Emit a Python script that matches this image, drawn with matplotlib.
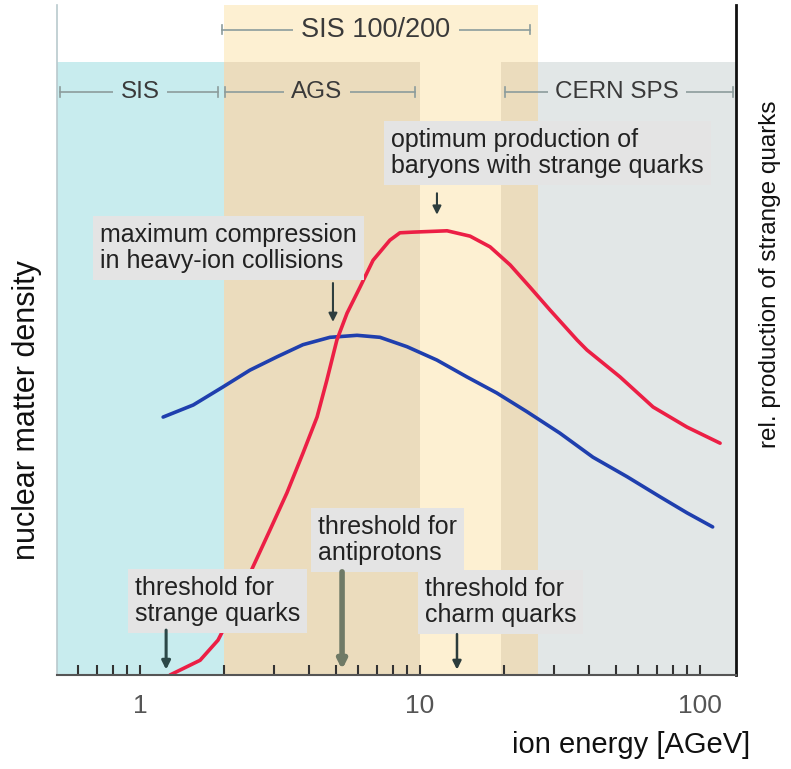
import matplotlib
matplotlib.use('Agg')
import matplotlib.pyplot as plt

# ---- data ----
energy_red = [1.28, 1.64, 1.90, 2.22, 2.53, 2.91, 3.35, 3.82, 4.29, 4.65, 5.05, 5.49,
              6.11, 6.80, 7.81, 8.48, 9.44, 12.5, 15.1, 17.8, 21.0, 24.7, 29.1, 36.4,
              39.5, 51.8, 68.0, 89.9, 118]
strange_prod = [0, 2.2, 5.2, 10.7, 16.1, 21.6, 27.2, 33.1, 38.5, 44.0, 50.0, 54.0,
                57.9, 61.9, 64.9, 66.0, 66.1, 66.3, 65.5, 63.9, 61.2, 57.9, 54.5, 50.0,
                48.5, 44.5, 40.0, 37.0, 34.6]
energy_blue = [1.21, 1.55, 1.98, 2.47, 3.09, 3.82, 4.77, 5.96, 7.20, 8.99, 11.5, 14.7,
               18.8, 24.1, 31.6, 41.5, 54.9, 72.0, 89.9, 111]
density = [38.5, 40.3, 43.0, 45.5, 47.5, 49.3, 50.4, 50.7, 50.4, 49.0, 47.0, 44.5,
           42.1, 39.3, 36.1, 32.5, 29.6, 26.6, 24.2, 22.1]

band_names = ['SIS', 'AGS', 'SIS 100/200', 'CERN SPS']
band_lo = [0.5055, 2.0, 2.0, 19.5]
band_hi = [2.0, 10.0, 26.5, 134.5]

tick_vals = [1, 10, 100]
tick_labels = ['1', '10', '100']

notes = ['optimum production of\nbaryons with strange quarks',
         'maximum compression\nin heavy-ion collisions',
         'threshold for\nstrange quarks',
         'threshold for\nantiprotons',
         'threshold for\ncharm quarks']
note_energy = [11.5, 4.89, 1.24, 5.27, 13.56]

FONT = ['Liberation Sans', 'DejaVu Sans']
plt.rcParams['font.family'] = FONT

fig = plt.figure(figsize=(7.91, 7.69), dpi=100)
ax = fig.add_axes([57/791, 1-675/769, (736-57)/791, (675-5)/769])
ax.set_xscale('log')
ax.set_xlim(0.5055, 134.5)
ax.set_ylim(0, 100)

c_cyan = '#c8ecee'
c_tan = '#ebdcbd'
c_yel = '#fdf0d2'
c_gray = '#e2e7e7'
low_top = 0.915

# bands
ax.axvspan(band_lo[2], band_hi[2], ymin=0, ymax=1, color=c_yel, lw=0, zorder=0)
ax.axvspan(band_lo[0], band_hi[0], ymin=0, ymax=low_top, color=c_cyan, lw=0, zorder=0.5)
ax.axvspan(band_lo[1], band_hi[1], ymin=0, ymax=low_top, color=c_tan, lw=0, zorder=0.5)
ax.axvspan(band_lo[3], band_hi[2], ymin=0, ymax=low_top, color=c_tan, lw=0, zorder=0.5)
ax.axvspan(band_hi[2], band_hi[3], ymin=0, ymax=low_top, color=c_gray, lw=0, zorder=0.5)

# header labels with range arrows
hdr_color = '#3a3a3a'
line_color = '#8c9c9c'

def header_bg(lo, hi, xc, y, label, bg, size):
    ax.plot([lo, hi], [y, y], color=line_color, lw=1.2, zorder=2)
    for xx in (lo, hi):
        ax.plot([xx, xx], [y - 0.7, y + 0.7], color=line_color, lw=1.2, zorder=2)
    ax.text(xc, y, label, ha='center', va='center', fontsize=size, color=hdr_color,
            family=['Liberation Sans Narrow', 'Liberation Sans', 'DejaVu Sans'],
            zorder=3, bbox=dict(boxstyle='square,pad=0.3', fc=bg, ec='none'))

header_bg(1.96, 24.7, 6.96, 96.3, band_names[2], c_yel, 19.5)
header_bg(0.518, 1.90, 1.0, 87.0, band_names[0], c_cyan, 17.5)
header_bg(2.02, 9.6, 4.29, 87.0, band_names[1], c_tan, 17.5)
header_bg(20.1, 131, 50.5, 87.0, band_names[3], c_gray, 17.5)

# curves
ax.plot(energy_blue, density, color='#1f3fae', lw=2.6, zorder=4,
        solid_capstyle='round', solid_joinstyle='round')
ax.plot(energy_red, strange_prod, color='#ec1f45', lw=2.6, zorder=5,
        solid_capstyle='round', solid_joinstyle='round')

# annotations
box = dict(boxstyle='square,pad=0.28', fc='#e4e4e4', ec='none')
fs = 18
text_pos = [(7.9, 77.9), (0.72, 63.7), (0.96, 11.0), (4.32, 20.1), (10.4, 10.9)]
for (tx, ty), note in zip(text_pos, notes):
    ax.text(tx, ty, note, ha='left', va='center', fontsize=fs, color='#222',
            bbox=box, zorder=6, linespacing=1.1)

arrow_specs = [
    (note_energy[0], 71.9, 68.7, '#2e3e3e', 1.5),
    (note_energy[1], 58.5, 52.7, '#2e3e3e', 1.5),
    (note_energy[2], 6.7, 0.8, '#2c4848', 2.2),
    (note_energy[3], 15.4, 0.8, '#6f7a66', 4.0),
    (note_energy[4], 6.1, 0.8, '#2c3c3c', 1.8),
]
for xe, y0, y1, col, lw in arrow_specs:
    ax.annotate('', xy=(xe, y1), xytext=(xe, y0),
                arrowprops=dict(arrowstyle='-|>,head_width=0.25,head_length=0.5',
                                color=col, lw=lw, shrinkA=0, shrinkB=0), zorder=7)

# axes styling
ax.set_xticks(tick_vals)
ax.set_xticklabels(tick_labels)
ax.tick_params(axis='x', which='both', direction='in', length=7, width=1.5,
               color='#333', labelsize=19, labelcolor='#555', pad=14)
ax.tick_params(axis='y', left=False, labelleft=False)
ax.spines['top'].set_visible(False)
ax.spines['left'].set_color('#b9c9cd')
ax.spines['left'].set_linewidth(1.2)
ax.spines['right'].set_color('#111')
ax.spines['right'].set_linewidth(2)
ax.spines['bottom'].set_color('#555')
ax.spines['bottom'].set_linewidth(1.5)
for s in ax.spines.values():
    s.set_zorder(8)

fig.text(27/791, 1-410/769, 'nuclear matter density', rotation=90, ha='center',
         va='center', fontsize=22, color='#111')
fig.text(770/791, 1-274/769, 'rel. production of strange quarks', rotation=90,
         ha='center', va='center', fontsize=17.5, color='#111')
fig.text(750/791, 1-745/769, 'ion energy [AGeV]', ha='right', va='center',
         fontsize=21, color='#111')

fig.savefig('out.png', dpi=100)
